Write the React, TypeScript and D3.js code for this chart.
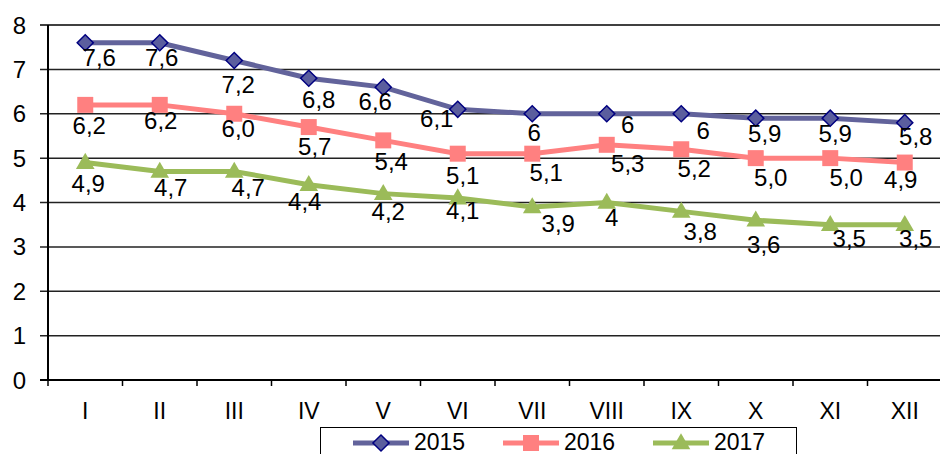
import React from "react";
import * as d3 from "d3";

const months = ["I", "II", "III", "IV", "V", "VI", "VII", "VIII", "IX", "X", "XI", "XII"];
const yTicks = [0, 1, 2, 3, 4, 5, 6, 7, 8];

const values2015 = [7.6, 7.6, 7.2, 6.8, 6.6, 6.1, 6, 6, 6, 5.9, 5.9, 5.8];
const values2016 = [6.2, 6.2, 6.0, 5.7, 5.4, 5.1, 5.1, 5.3, 5.2, 5.0, 5.0, 4.9];
const values2017 = [4.9, 4.7, 4.7, 4.4, 4.2, 4.1, 3.9, 4, 3.8, 3.6, 3.5, 3.5];

const labels2015 = ["7,6", "7,6", "7,2", "6,8", "6,6", "6,1", "6", "6", "6", "5,9", "5,9", "5,8"];
const labels2016 = ["6,2", "6,2", "6,0", "5,7", "5,4", "5,1", "5,1", "5,3", "5,2", "5,0", "5,0", "4,9"];
const labels2017 = ["4,9", "4,7", "4,7", "4,4", "4,2", "4,1", "3,9", "4", "3,8", "3,6", "3,5", "3,5"];

// label nudges (px) as placed by hand in the original chart
const nudge2015 = [[14, 15], [2, 15], [4, 24], [10, 21], [-8, 14], [-21, 9], [2, 19], [21, 11], [22, 17], [9, 15], [5, 15], [11, 14]];
const nudge2016 = [[4, 21], [1, 16], [4, 15], [6, 19], [8, 21], [5, 22], [14, 19], [21, 19], [13, 19], [15, 19], [16, 19], [-4, 17]];
const nudge2017 = [[3, 21], [11, 16], [14, 16], [-4, 17], [5, 18], [5, 12], [26, 17], [5, 15], [19, 20], [8, 24], [19, 14], [11, 14]];

const series = [
  { name: "2015", values: values2015, labels: labels2015, nudge: nudge2015, color: "#62639b", marker: "diamond" },
  { name: "2016", values: values2016, labels: labels2016, nudge: nudge2016, color: "#ff8080", marker: "square" },
  { name: "2017", values: values2017, labels: labels2017, nudge: nudge2017, color: "#9bbb59", marker: "triangle" },
];

const W = 940;
const H = 454;
const left = 48;
const right = 942;
const top = 25;
const bottom = 380;
const font = "'Liberation Sans', Arial, sans-serif";

const x = d3.scaleBand().domain(months).range([left, right]);
const y = d3.scaleLinear().domain([0, 8]).range([bottom, top]);

const diamond = d3.symbol(d3.symbolSquare, 130)();
const square = d3.symbol(d3.symbolSquare, 256)();
const triangle = d3.symbol(d3.symbolTriangle, 150)();

function Marker({ kind, color, cx, cy }) {
  if (kind === "diamond") {
    return (
      <path d={diamond} transform={`translate(${cx},${cy}) rotate(45)`} fill="#5b5e9e" stroke="#000080" strokeWidth={1.5} />
    );
  }
  if (kind === "square") {
    return <path d={square} transform={`translate(${cx},${cy})`} fill={color} />;
  }
  return <path d={triangle} transform={`translate(${cx},${cy + 1})`} fill={color} />;
}

export default function App() {
  const cx = (i) => x(months[i]) + x.bandwidth() / 2;
  const line = d3
    .line<number>()
    .x((_, i) => cx(i))
    .y((d) => y(d));

  const legendItems = [353, 503, 653];

  return (
    <svg
      width={W}
      height={H}
      style={{ position: "absolute", left: 0, top: 0, background: "#fff" }}
      fontFamily={font}
    >
      {/* grid */}
      {yTicks.map((t) => (
        <g key={t}>
          <line
            x1={40}
            x2={W}
            y1={y(t)}
            y2={y(t)}
            stroke={t === 0 || t === 8 ? "#000" : "#222"}
            strokeWidth={t === 0 ? 2 : 1.5}
          />
          <text x={26} y={y(t)} textAnchor="end" dominantBaseline="central" fontSize={24}>
            {t}
          </text>
        </g>
      ))}
      <line x1={left} x2={left} y1={top} y2={bottom + 1} stroke="#000" strokeWidth={2} />
      {months.map((m, i) => (
        <g key={m}>
          <line x1={x(m)} x2={x(m)} y1={bottom} y2={bottom + 6} stroke="#000" strokeWidth={1.5} />
          <text x={cx(i)} y={411} textAnchor="middle" dominantBaseline="central" fontSize={23}>
            {m}
          </text>
        </g>
      ))}

      {series.map((s) => (
        <g key={s.name}>
          <path d={line(s.values)} fill="none" stroke={s.color} strokeWidth={5} />
          {s.values.map((v, i) => (
            <Marker key={i} kind={s.marker} color={s.color} cx={cx(i)} cy={y(v)} />
          ))}
        </g>
      ))}

      {series.map((s) =>
        s.values.map((v, i) => (
          <text
            key={s.name + i}
            x={cx(i) + s.nudge[i][0]}
            y={y(v) + s.nudge[i][1]}
            textAnchor="middle"
            dominantBaseline="central"
            fontSize={24}
          >
            {s.labels[i]}
          </text>
        ))
      )}

      {/* legend */}
      <rect x={320.5} y={427.5} width={476} height={40} fill="#fff" stroke="#000" strokeWidth={1} />
      {series.map((s, k) => (
        <g key={s.name}>
          <line x1={legendItems[k]} x2={legendItems[k] + 56} y1={443} y2={443} stroke={s.color} strokeWidth={5} />
          <Marker kind={s.marker} color={s.color} cx={legendItems[k] + 28} cy={443} />
          <text x={legendItems[k] + 61} y={442} dominantBaseline="central" fontSize={23}>
            {s.name}
          </text>
        </g>
      ))}
    </svg>
  );
}
